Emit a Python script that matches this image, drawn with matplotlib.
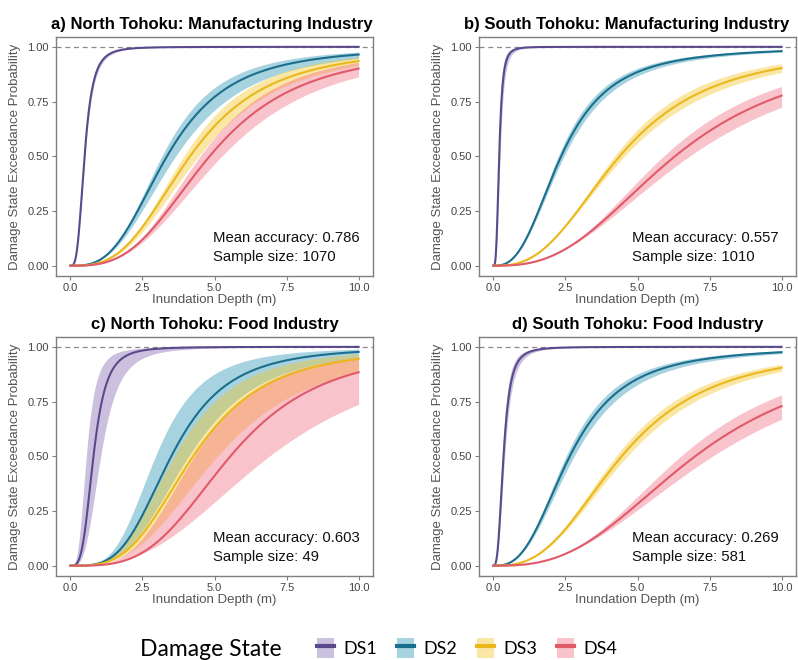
import numpy as np
import matplotlib
matplotlib.use("Agg")
import matplotlib.pyplot as plt
from matplotlib.patches import Patch
from matplotlib.lines import Line2D

plt.rcParams['font.family'] = ['Liberation Sans', 'DejaVu Sans']

# --- Fragility model results (log-logistic in inundation depth) ---
states = ['DS1', 'DS2', 'DS3', 'DS4']
titles = ['a) North Tohoku: Manufacturing Industry',
          'b) South Tohoku: Manufacturing Industry',
          'c) North Tohoku: Food Industry',
          'd) South Tohoku: Food Industry']
accuracy = ['0.786', '0.557', '0.603', '0.269']
sample_size = ['1070', '1010', '49', '581']

# median depth (m) and dispersion of each damage state curve, one row per panel
median = [[0.49, 3.35, 4.15, 4.83],
          [0.20, 2.35, 4.38, 6.30],
          [0.80, 3.50, 4.26, 5.55],
          [0.35, 2.65, 4.45, 7.00]]
disp = [[0.30, 0.33, 0.33, 0.33],
        [0.30, 0.37, 0.37, 0.37],
        [0.28, 0.28, 0.30, 0.29],
        [0.34, 0.36, 0.36, 0.36]]

# credible band: upper edge (left side) and lower edge (right side)
upper_median = [[0.475, 3.17, 3.93, 4.50],
                [0.17, 2.25, 4.20, 5.90],
                [0.55, 2.95, 3.60, 4.30],
                [0.31, 2.52, 4.25, 6.50]]
upper_disp = [[0.29, 0.31, 0.31, 0.31],
              [0.29, 0.36, 0.35, 0.35],
              [0.30, 0.27, 0.30, 0.28],
              [0.33, 0.35, 0.35, 0.34]]
lower_median = [[0.505, 3.65, 4.45, 5.25],
                [0.23, 2.45, 4.55, 6.80],
                [1.05, 4.10, 5.10, 6.90],
                [0.39, 2.80, 4.65, 7.60]]
lower_disp = [[0.31, 0.35, 0.34, 0.35],
              [0.31, 0.38, 0.39, 0.40],
              [0.30, 0.30, 0.33, 0.36],
              [0.35, 0.37, 0.37, 0.39]]

line_colors = ['#5B4A8B', '#1B6F8C', '#EAB81E', '#E05A6A']
band_colors = ['#7D64AF', '#2391B2', '#F5C520', '#F0697D']

depth = np.linspace(0, 10, 801)


def exceedance(x, med, s):
    with np.errstate(divide='ignore', over='ignore'):
        z = (np.log(x) - np.log(med)) / s
        return 1.0 / (1.0 + np.exp(-z))


fig = plt.figure(figsize=(7.98, 6.6), dpi=100)

W, H = 798, 660
boxes = [(56, 37), (479, 37), (56, 337), (479, 337)]  # left, top in pixels
aw, ah = 317, 239
title_x = [0.49, 0.465, 0.5, 0.5]

grey = '#555555'
for p, (lx, ty) in enumerate(boxes):
    ax = fig.add_axes([lx / W, 1 - (ty + ah) / H, aw / W, ah / H])
    ax.axhline(1.0, color='#8A8A8A', lw=0.9, ls=(0, (4, 3)), zorder=0)
    for k in range(4):
        lo = exceedance(depth, lower_median[p][k], lower_disp[p][k])
        hi = exceedance(depth, upper_median[p][k], upper_disp[p][k])
        mid = exceedance(depth, median[p][k], disp[p][k])
        ax.fill_between(depth, lo, hi, color=band_colors[k], alpha=0.4, lw=0)
        ax.plot(depth, mid, color=line_colors[k], lw=1.5)

    ax.set_xlim(-0.5, 10.5)
    ax.set_ylim(-0.047, 1.045)
    ax.set_xticks([0, 2.5, 5, 7.5, 10])
    ax.set_xticklabels(['0.0', '2.5', '5.0', '7.5', '10.0'])
    ax.set_yticks([0, 0.25, 0.5, 0.75, 1.0])
    ax.set_yticklabels(['0.00', '0.25', '0.50', '0.75', '1.00'])
    ax.tick_params(labelsize=8, colors='#7F7F7F', labelcolor='#444444',
                   length=3, width=0.8, pad=2)
    for sp in ax.spines.values():
        sp.set_color('#7F7F7F')
        sp.set_linewidth(1.0)
    ax.set_xlabel('Inundation Depth (m)', fontsize=9.5, color=grey, labelpad=1)
    ax.set_ylabel('Damage State Exceedance Probability', fontsize=9.5,
                  color=grey, labelpad=5)
    ax.set_title(titles[p], fontsize=12, fontweight='bold', pad=6,
                 x=title_x[p])

    tx = 4.95 if p in (0, 2) else 4.82
    ax.text(tx, 0.125, f'Mean accuracy: {accuracy[p]}', fontsize=10.7,
            va='center', ha='left', color='#111111')
    ax.text(tx, 0.04, f'Sample size: {sample_size[p]}', fontsize=10.7,
            va='center', ha='left', color='#111111')

# --- Shared legend ---
handles = [(Patch(facecolor=band_colors[k], alpha=0.4, edgecolor='none'),
            Line2D([], [], color=line_colors[k], lw=3)) for k in range(4)]
fig.text(140 / W, 1 - 649 / H, 'Damage State', fontsize=16.5,
         family=['Lato', 'DejaVu Sans'], va='center', ha='left')
fig.legend(handles, states, loc='center left',
           bbox_to_anchor=(310 / W, 1 - 648 / H), ncol=4, frameon=False,
           prop={'family': ['Lato', 'DejaVu Sans'], 'size': 13},
           handlelength=0.95, handleheight=1.3, handletextpad=0.5,
           columnspacing=1.1, borderaxespad=0)

fig.savefig('out.png', dpi=100)
